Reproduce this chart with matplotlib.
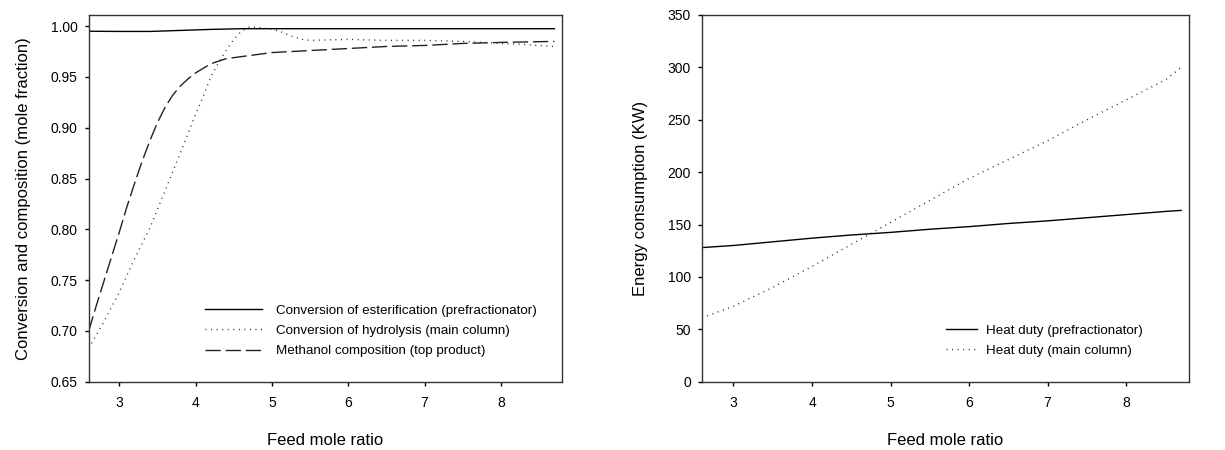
import matplotlib
matplotlib.use('Agg')
import matplotlib.pyplot as plt

plt.rcParams['font.family'] = ['Liberation Sans', 'DejaVu Sans']

# left panel: conversion / composition vs feed mole ratio
x_ester = [2.6, 3.0, 3.4, 3.8, 4.2, 4.6, 5.0, 6.0, 7.0, 8.0, 8.7]
conv_ester = [0.9950, 0.9948, 0.9948, 0.9958, 0.9968, 0.9975, 0.9975, 0.9975, 0.9975, 0.9975, 0.9975]

x_hydro = [2.6, 2.8, 3.0, 3.2, 3.4, 3.6, 3.8, 4.0, 4.1, 4.2, 4.3, 4.4, 4.5, 4.6, 4.7,
           4.8, 4.9, 5.0, 5.1, 5.2, 5.3, 5.4, 5.5, 6.0, 6.5, 7.0, 7.5, 8.0, 8.3, 8.7]
conv_hydro = [0.683, 0.709, 0.738, 0.771, 0.801, 0.838, 0.875, 0.913, 0.931, 0.950, 0.964,
              0.976, 0.987, 0.995, 0.999, 0.999, 0.998, 0.997, 0.995, 0.992, 0.989, 0.987,
              0.986, 0.987, 0.986, 0.986, 0.985, 0.983, 0.982, 0.980]

x_meoh = [2.6, 2.7, 2.8, 2.9, 3.0, 3.1, 3.2, 3.3, 3.4, 3.5, 3.6, 3.7, 3.8, 3.9, 4.0,
          4.2, 4.4, 4.6, 5.0, 5.5, 6.0, 6.5, 7.0, 7.5, 8.0, 8.7]
comp_meoh = [0.700, 0.725, 0.749, 0.773, 0.797, 0.822, 0.845, 0.867, 0.887, 0.905, 0.920,
             0.932, 0.941, 0.948, 0.954, 0.963, 0.968, 0.970, 0.974, 0.976, 0.978, 0.980,
             0.981, 0.983, 0.984, 0.985]

# right panel: heat duties
x_duty = [2.6, 3.0, 3.5, 4.0, 4.5, 5.0, 5.5, 6.0, 6.5, 7.0, 7.5, 8.0, 8.5, 8.7]
duty_prefrac = [128, 130, 133.5, 137, 140, 142.5, 145.5, 148, 151, 153.5, 156.5, 159.5, 162.5, 163.5]
duty_main = [61, 72, 90, 110, 131, 152, 173, 194, 212, 230, 250, 269, 288, 300]

left_labels = ['Conversion of esterification (prefractionator)',
               'Conversion of hydrolysis (main column)',
               'Methanol composition (top product)']
right_labels = ['Heat duty (prefractionator)', 'Heat duty (main column)']

dot = (0, (0.7, 3.3))
dash = (0, (11, 3.5))

fig = plt.figure(figsize=(12.25, 4.5), dpi=100)
ax1 = fig.add_axes([0.0724, 0.1518, 0.3864, 0.8149])
ax2 = fig.add_axes([0.5731, 0.1518, 0.3975, 0.8149])

ax1.plot(x_ester, conv_ester, color='black', lw=1.0, label=left_labels[0])
ax1.plot(x_hydro, conv_hydro, color='#222222', lw=1.0, ls=dot, label=left_labels[1])
ax1.plot(x_meoh, comp_meoh, color='#222222', lw=1.0, ls=dash, label=left_labels[2])
ax1.set_xlim(2.6, 8.8)
ax1.set_ylim(0.65, 1.011)
ax1.set_xticks([3, 4, 5, 6, 7, 8])
ax1.set_yticks([0.65, 0.70, 0.75, 0.80, 0.85, 0.90, 0.95, 1.00])
ax1.set_yticklabels(['%.2f' % v for v in ax1.get_yticks()])
ax1.set_xlabel('Feed mole ratio', fontsize=12, labelpad=17)
ax1.set_ylabel('Conversion and composition (mole fraction)', fontsize=12, labelpad=14)
ax1.legend(loc='upper left', bbox_to_anchor=(0.2457, 0.2113), frameon=False,
           fontsize=9.6, handlelength=4.3, handletextpad=1.05, labelspacing=0.6,
           borderpad=0, borderaxespad=0)

ax2.plot(x_duty, duty_prefrac, color='black', lw=1.0, label=right_labels[0])
ax2.plot(x_duty, duty_main, color='#222222', lw=1.0, ls=dot, label=right_labels[1])
ax2.set_xlim(2.6, 8.8)
ax2.set_ylim(0, 350)
ax2.set_xticks([3, 4, 5, 6, 7, 8])
ax2.set_yticks(range(0, 351, 50))
ax2.set_xlabel('Feed mole ratio', fontsize=12, labelpad=17)
ax2.set_ylabel('Energy consumption (KW)', fontsize=12, labelpad=14)
ax2.legend(loc='upper left', bbox_to_anchor=(0.501, 0.1566), frameon=False,
           fontsize=9.6, handlelength=2.3, handletextpad=0.7, labelspacing=0.6,
           borderpad=0, borderaxespad=0)

for ax in (ax1, ax2):
    for s in ax.spines.values():
        s.set_linewidth(1.0)
        s.set_color('#333333')
    ax.tick_params(axis='both', direction='out', length=3, width=1.0, labelsize=10, colors='black')
    ax.tick_params(axis='x', pad=7)
    ax.tick_params(axis='y', pad=5)

fig.savefig('out.png', dpi=100)
